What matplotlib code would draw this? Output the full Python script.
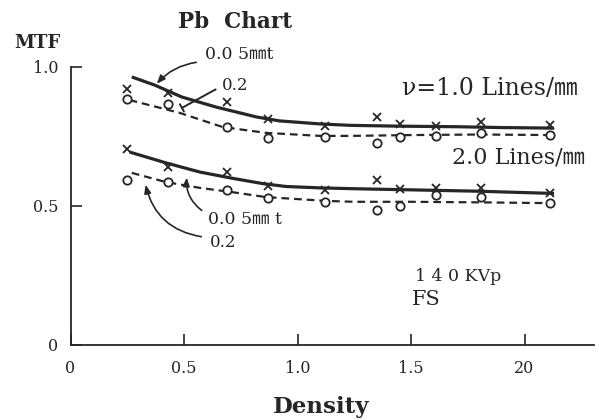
import numpy as np
import matplotlib
matplotlib.use("Agg")
import matplotlib.pyplot as plt

plt.rcParams['font.family'] = ['DejaVu Serif', 'Noto Sans CJK JP']

ink = '#262626'

# measured points (film density vs MTF)
density = [0.25, 0.43, 0.69, 0.87, 1.12, 1.35, 1.45, 1.61, 1.81, 2.11]
mtf_10_005 = [0.92, 0.906, 0.875, 0.813, 0.788, 0.82, 0.795, 0.788, 0.802, 0.791]
mtf_10_02 = [0.885, 0.867, 0.785, 0.745, 0.748, 0.727, 0.748, 0.752, 0.763, 0.755]
mtf_20_005 = [0.705, 0.64, 0.622, 0.572, 0.558, 0.594, 0.561, 0.565, 0.565, 0.547]
mtf_20_02 = [0.593, 0.586, 0.558, 0.529, 0.514, 0.486, 0.5, 0.54, 0.532, 0.51]

# hand drawn trend curves
c10_005_x = [0.27, 0.37, 0.49, 0.64, 0.82, 0.92, 1.10, 1.23, 1.45, 1.7, 1.9, 2.13]
c10_005_y = [0.964, 0.935, 0.892, 0.856, 0.82, 0.806, 0.795, 0.79, 0.787, 0.785, 0.782, 0.78]
c10_02_x = [0.26, 0.48, 0.67, 0.86, 1.10, 1.23, 1.5, 1.8, 2.13]
c10_02_y = [0.881, 0.835, 0.784, 0.763, 0.752, 0.752, 0.755, 0.757, 0.755]
c20_005_x = [0.26, 0.42, 0.57, 0.71, 0.85, 0.95, 1.10, 1.25, 1.5, 1.8, 2.13]
c20_005_y = [0.694, 0.655, 0.622, 0.60, 0.58, 0.57, 0.565, 0.562, 0.558, 0.553, 0.545]
c20_02_x = [0.27, 0.42, 0.57, 0.71, 0.86, 1.13, 1.25, 1.5, 1.8, 2.13]
c20_02_y = [0.619, 0.586, 0.565, 0.55, 0.532, 0.518, 0.515, 0.515, 0.513, 0.51]

fig = plt.figure(figsize=(5.99, 4.20), dpi=100)
ax = fig.add_axes([0.1177, 0.1786, 0.874, 0.662])

for cx, cy in [(c10_005_x, c10_005_y), (c20_005_x, c20_005_y)]:
    ax.plot(cx, cy, c=ink, lw=2.3, solid_capstyle='butt')
for cx, cy in [(c10_02_x, c10_02_y), (c20_02_x, c20_02_y)]:
    ax.plot(cx, cy, c=ink, lw=1.6, dashes=(3.5, 2.2))

for ys in [mtf_10_005, mtf_20_005]:
    ax.plot(density, ys, ls='none', marker='x', ms=6, mew=1.3, c=ink)
for ys in [mtf_10_02, mtf_20_02]:
    ax.plot(density, ys, ls='none', marker='o', ms=6, mew=1.3, mec=ink, mfc='white')

ax.set_xlim(0, 2.306)
ax.set_ylim(0, 1.0)
for s in ['top', 'right']:
    ax.spines[s].set_visible(False)
for s in ['left', 'bottom']:
    ax.spines[s].set_linewidth(1.3)
    ax.spines[s].set_color(ink)

ax.set_xticks([0, 0.5, 1.0, 1.5, 2.0])
ax.set_xticklabels(['0', '0.5', '1.0', '1.5', '20'])
ax.set_yticks([0, 0.5, 1.0])
ax.set_yticklabels(['0', '0.5', '1.0'])
ax.tick_params(axis='both', direction='in', length=8, width=1.2, color=ink,
               labelsize=11.5, labelcolor=ink)
ax.tick_params(axis='x', pad=11)
ax.tick_params(axis='y', pad=9)

fig.text(0.393, 0.948, 'Pb  Chart', ha='center', va='center', fontsize=15.5,
         fontweight='bold', color=ink)
fig.text(0.062, 0.898, 'MTF', ha='center', va='center', fontsize=13,
         fontweight='bold', color=ink)
fig.text(0.537, 0.03, 'Density', ha='center', va='center', fontsize=16.5,
         fontweight='bold', color=ink)

# curve labels with arrows
ax.text(0.593, 1.043, '0.0 5㎜t', ha='left', va='center', fontsize=12.5, color=ink,
        clip_on=False)
ax.annotate('', xy=(0.372, 0.932), xytext=(0.566, 1.018),
            arrowprops=dict(arrowstyle='-|>,head_length=0.5,head_width=0.2',
                            connectionstyle='arc3,rad=0.2', color=ink, lw=1.2),
            annotation_clip=False)
ax.text(0.667, 0.932, '0.2', ha='left', va='center', fontsize=12, color=ink)
ax.annotate('', xy=(0.48, 0.848), xytext=(0.65, 0.924),
            arrowprops=dict(arrowstyle='-[,widthB=0.3,lengthB=0',
                            color=ink, lw=1.4))

ax.text(0.606, 0.45, '0.0 5㎜ t', ha='left', va='center', fontsize=12.5, color=ink)
ax.annotate('', xy=(0.513, 0.612), xytext=(0.588, 0.478),
            arrowprops=dict(arrowstyle='-|>,head_length=0.5,head_width=0.2',
                            connectionstyle='arc3,rad=-0.3', color=ink, lw=1.2))
ax.text(0.615, 0.37, '0.2', ha='left', va='center', fontsize=12, color=ink)
ax.annotate('', xy=(0.328, 0.586), xytext=(0.588, 0.388),
            arrowprops=dict(arrowstyle='-|>,head_length=0.5,head_width=0.2',
                            connectionstyle='arc3,rad=-0.35', color=ink, lw=1.2))

ax.text(1.46, 0.924, 'ν=1.0 Lines/㎜', ha='left', va='center', fontsize=17,
        color=ink, clip_on=False)
ax.text(1.68, 0.676, '2.0 Lines/㎜', ha='left', va='center', fontsize=16,
        color=ink, clip_on=False)
ax.text(1.517, 0.245, '1 4 0 KVp', ha='left', va='center', fontsize=12.5, color=ink)
ax.text(1.504, 0.162, 'FS', ha='left', va='center', fontsize=15, color=ink)

fig.savefig('out.png', dpi=100, facecolor='white')
